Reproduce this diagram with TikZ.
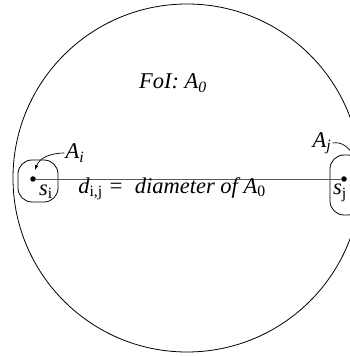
\documentclass[tikz,border=0pt]{standalone}
\usepackage{fontspec}
\setmainfont{Liberation Serif}
\usepackage{tikz}
\newcommand{\sub}[1]{\textsubscript{\normalfont #1}}

\begin{document}
\begin{tikzpicture}[
    x=1pt, y=1pt,
    field/.style={circle, draw, line width=0.8pt, minimum size=348pt, inner sep=0pt, outer sep=0pt},
    sensor/.style={circle, fill=black, minimum size=5.5pt, inner sep=0pt},
    region/.style={draw, line width=0.8pt, rounded corners=14pt, inner sep=0pt},
    lbl/.style={font=\fontsize{22.5}{26}\selectfont\itshape, inner sep=1pt},
    link/.style={draw, line width=0.8pt, black!65},
    pointer/.style={draw, line width=0.7pt, -latex}
]
  \useasboundingbox (0,0) rectangle (350,356);
  \clip (0,0) rectangle (350,356);
  \node[field] (foi) at (187,178) {};
  \node[region, minimum width=40pt, minimum height=42pt] (ai) at (38,175) {};
  \node[region, minimum width=32pt, minimum height=60pt] (aj) at (346,171) {};
  \node[sensor] (si) at (33,177) {};
  \node[sensor] (sj) at (344,177) {};
  \draw[link] (si) -- (sj);
  \node[lbl] (sil) at (46,164) {s\sub{i}};
  \node[lbl] (sjl) at (340,163) {s\sub{j}};
  \node[lbl] (ail) at (75,203) {A\textsubscript{i}};
  \node[lbl] (ajl) at (322,213) {A\textsubscript{j}};
  \coordinate (aitip) at (35,186);
  \coordinate (ajtip) at (354,199);
  \draw[pointer] (ail.west) to[out=180, in=70] (aitip);
  \draw[pointer] (ajl.east) to[out=10, in=120] (ajtip);
  \node[lbl] (foil) at (173,273) {FoI: A\textsubscript{0}};
  \node[lbl] (dl) at (172,167) {d\sub{i,j} =\ \ diameter of A\sub{0}};
\end{tikzpicture}
\end{document}
